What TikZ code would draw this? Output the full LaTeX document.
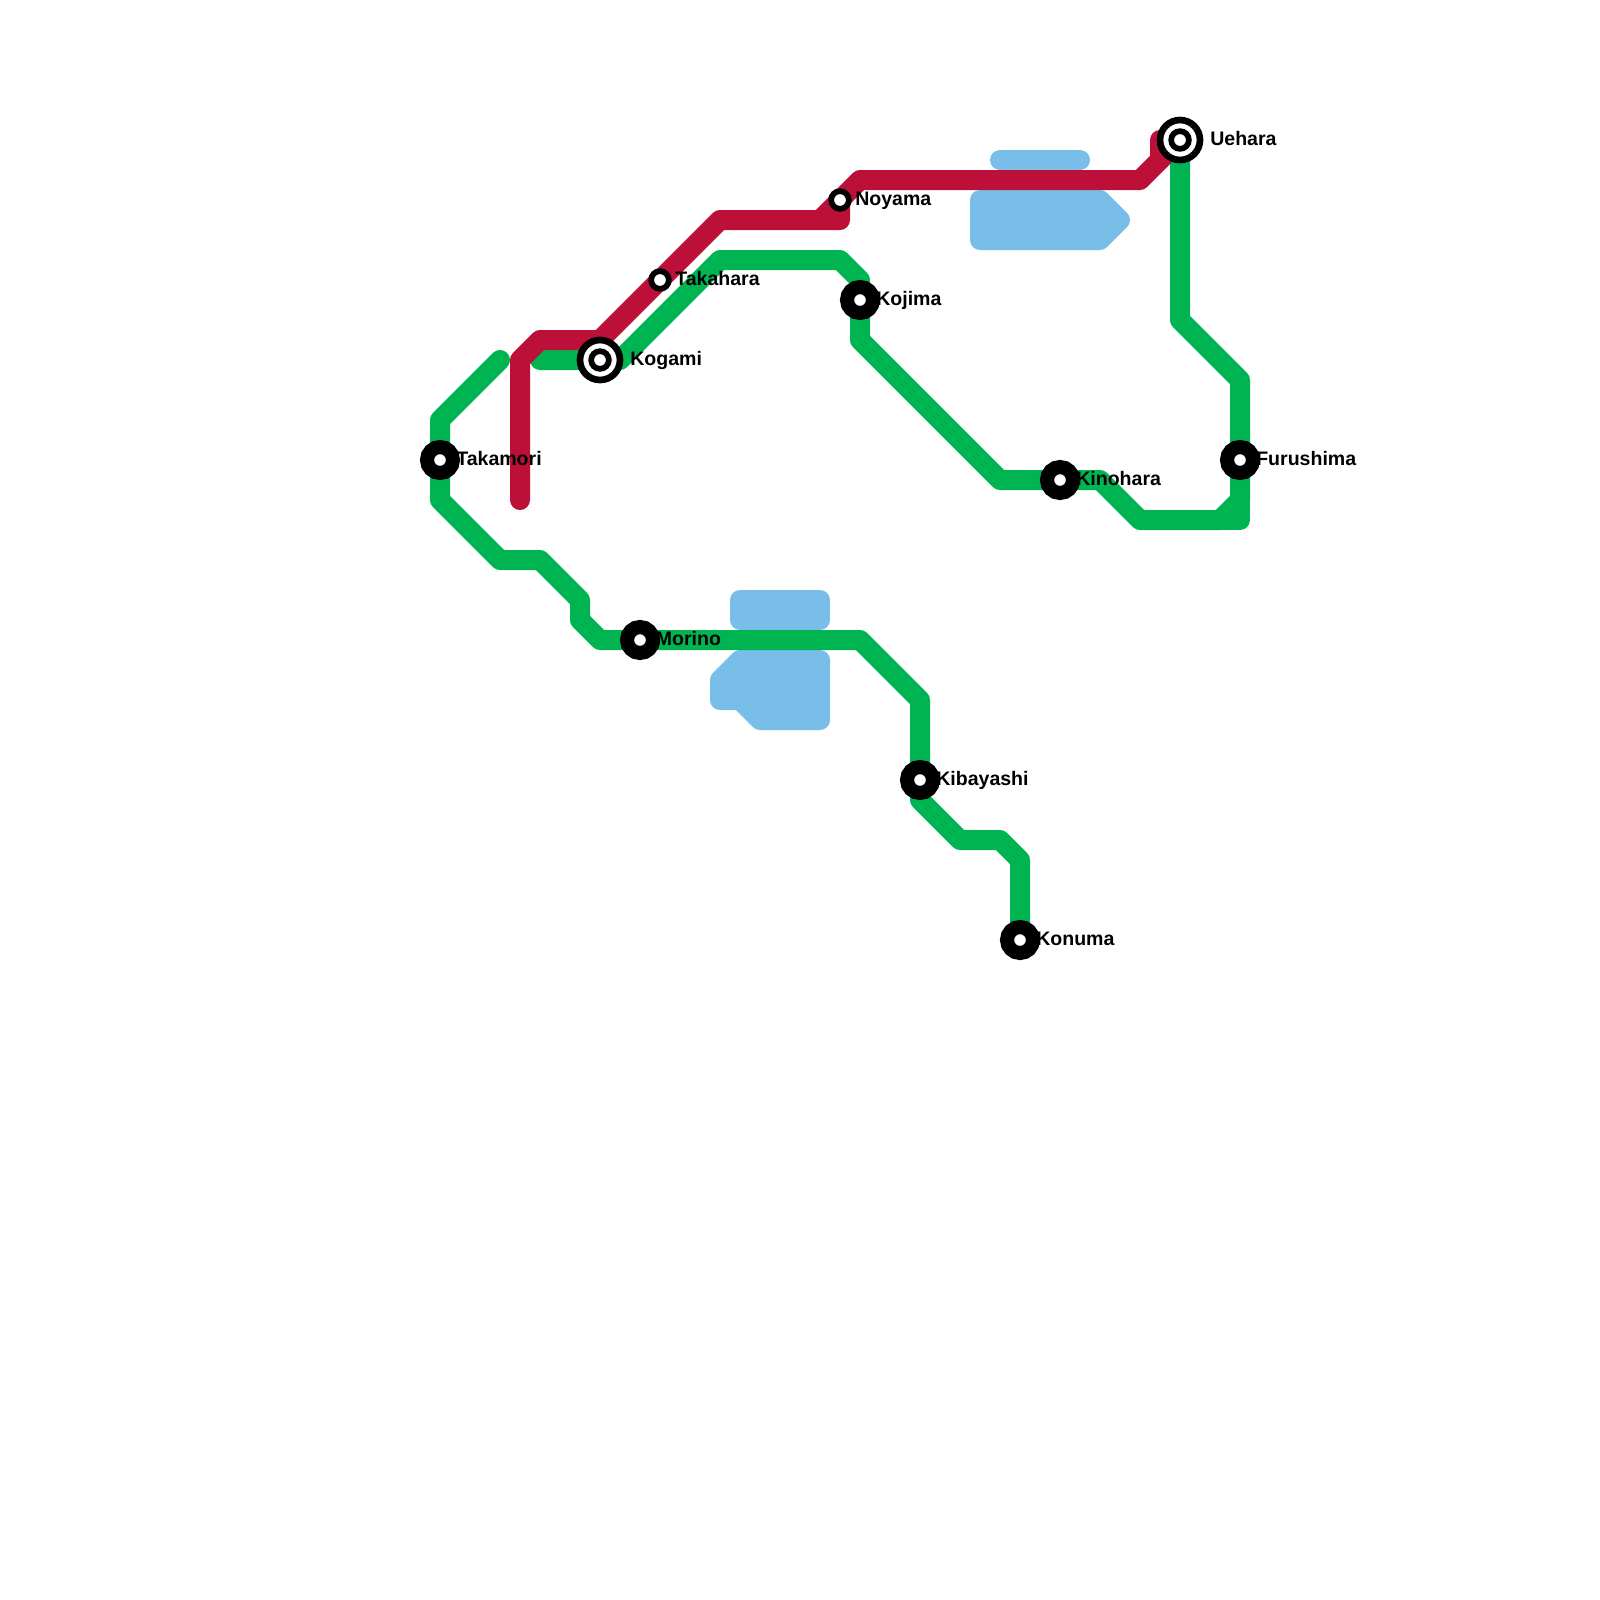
\documentclass[tikz,border=0pt]{standalone}
\usepackage{fontspec}
\setmainfont{Liberation Sans}
\usepackage{xcolor}
\usepackage{tikz}
\usetikzlibrary{backgrounds}
\definecolor{mygreen}{RGB}{0,181,81}
\definecolor{myred}{RGB}{189,16,56}
\definecolor{myblue}{RGB}{121,189,233}
\tikzset{
  track/.style={line width=0.5cm, line cap=round, line join=round},
  greentrack/.style={track, draw=mygreen},
  redtrack/.style={track, draw=myred},
  water/.style={track, draw=myblue, fill=myblue},
  stop/.style={circle, draw=black, fill=white, inner sep=0pt,
    minimum size=0.65cm, line width=0.35cm},
  smallstop/.style={circle, draw=black, fill=white, inner sep=0pt,
    minimum size=0.4425cm, line width=0.1425cm},
  hubring/.style={circle, draw=black, fill=white, inner sep=0pt,
    minimum size=1cm, line width=0.167cm},
  stopname/.style={anchor=base west, inner sep=0pt,
    font=\fontsize{13.9pt}{16pt}\selectfont\bfseries}
}
\begin{document}
\begin{tikzpicture}[x=0.5cm, y=-0.5cm]
  \useasboundingbox (0,0) rectangle (80,80);

  % Stations
  \node[stop] (takamori) at (22,23) {};
  \node[hubring] (kogami) at (30,18) {};
  \node[smallstop] (kogamicore) at (30,18) {};
  \node[smallstop] (takahara) at (33,14) {};
  \node[smallstop] (noyama) at (42,10) {};
  \node[stop] (kojima) at (43,15) {};
  \node[hubring] (uehara) at (59,7) {};
  \node[smallstop] (ueharacore) at (59,7) {};
  \node[stop] (kinohara) at (53,24) {};
  \node[stop] (furushima) at (62,23) {};
  \node[stop] (morino) at (32,32) {};
  \node[stop] (kibayashi) at (46,39) {};
  \node[stop] (konuma) at (51,47) {};

  % Station names
  \node[stopname] (takamorilabel) at (22.8,23.28) {Takamori};
  \node[stopname] (kogamilabel) at (31.5,18.28) {Kogami};
  \node[stopname] (takaharalabel) at (33.75,14.28) {Takahara};
  \node[stopname] (noyamalabel) at (42.75,10.28) {Noyama};
  \node[stopname] (kojimalabel) at (43.8,15.28) {Kojima};
  \node[stopname] (ueharalabel) at (60.5,7.28) {Uehara};
  \node[stopname] (kinoharalabel) at (53.8,24.28) {Kinohara};
  \node[stopname] (furushimalabel) at (62.8,23.28) {Furushima};
  \node[stopname] (morinolabel) at (32.78,32.28) {Morino};
  \node[stopname] (kibayashilabel) at (46.8,39.28) {Kibayashi};
  \node[stopname] (konumalabel) at (51.8,47.28) {Konuma};

  \begin{pgfonlayer}{background}
    % Water
    \draw[water] (50,8) -- (54,8);
    \draw[water] (49,10) -- (55,10) -- (56,11) -- (55,12) -- (49,12) -- cycle;
    \draw[water] (37,30) rectangle (41,31);
    \draw[water] (41,33) -- (41,36) -- (38,36) -- (37,35) -- (36,35) -- (36,34) -- (37,33) -- cycle;

    % Green lines
    \draw[greentrack] (25,18) -- (22,21) -- (takamori.center) -- (22,25) -- (25,28) -- (27,28)
      -- (29,30) -- (29,31) -- (30,32) -- (morino.center) -- (43,32) -- (46,35)
      -- (kibayashi.center) -- (46,40) -- (48,42) -- (50,42) -- (51,43) -- (konuma.center);
    \draw[greentrack] (27,18) -- (kogami.center) -- (31,18) -- (36,13) -- (42,13) -- (43,14)
      -- (kojima.center) -- (43,17) -- (50,24) -- (kinohara.center) -- (55,24) -- (57,26)
      -- (61,26) -- (62,25) -- (furushima.center) -- (62,19) -- (59,16) -- (uehara.center);
    \draw[greentrack] (62,25) -- (62,26) -- (61,26);

    % Red line
    \draw[redtrack] (26,25) -- (26,18) -- (27,17) -- (30,17) -- (36,11) -- (42,11) -- (noyama.center);
    \draw[redtrack] (41,11) -- (43,9) -- (57,9) -- (uehara.center);
    \draw[redtrack] (58,8) -- (58,7) -- (uehara.center);
  \end{pgfonlayer}
\end{tikzpicture}
\end{document}
